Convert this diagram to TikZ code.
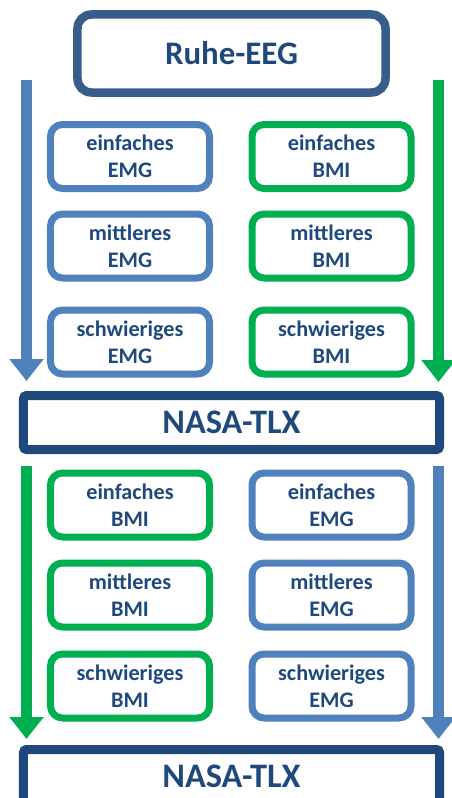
\documentclass[tikz,border=0pt]{standalone}
\usepackage{fontspec}
\setmainfont{Carlito}
\usetikzlibrary{arrows.meta}

\definecolor{emgblue}{HTML}{4F81BD}
\definecolor{bmigreen}{HTML}{00B050}
\definecolor{eegblue}{HTML}{385D8A}
\definecolor{tlxblue}{HTML}{1F497D}

\begin{document}
\begin{tikzpicture}[x=1bp, y=-1bp, text=tlxblue,
    task/.style={draw, rounded corners=12bp, line width=7bp, align=center,
      minimum width=159bp, minimum height=64bp, inner sep=0pt,
      font=\fontsize{22.3}{27}\selectfont\bfseries},
    emg/.style={task, draw=emgblue},
    bmi/.style={task, draw=bmigreen},
    survey/.style={draw=tlxblue, line width=9bp, rounded corners=3bp,
      minimum width=416bp, minimum height=54bp, inner sep=0pt,
      font=\fontsize{34.5}{38}\selectfont\bfseries},
    flow/.style={line width=11bp, -{Triangle[length=22bp, width=33bp]}}]

  \useasboundingbox (0,0) rectangle (452,798);

  % resting EEG at the top
  \node[draw=eegblue, line width=8.5bp, rounded corners=14bp,
        minimum width=308bp, minimum height=78bp,
        font=\fontsize{33}{38}\selectfont\bfseries]
    (eeg) at (231.5,53.5) {Ruhe-EEG};

  % first block: EMG left, BMI right
  \node[emg] (emgA1) at (130,156.5) {einfaches\\EMG};
  \node[emg] (emgA2) at (130,246)   {mittleres\\EMG};
  \node[emg] (emgA3) at (130,342)   {schwieriges\\EMG};
  \node[bmi] (bmiA1) at (331.5,156.5) {einfaches\\BMI};
  \node[bmi] (bmiA2) at (331.5,246)   {mittleres\\BMI};
  \node[bmi] (bmiA3) at (331.5,342)   {schwieriges\\BMI};

  \node[survey] (tlxA) at (231.5,422.5) {NASA-TLX};

  % second block: BMI left, EMG right
  \node[bmi] (bmiB1) at (130,505) {einfaches\\BMI};
  \node[bmi] (bmiB2) at (130,595) {mittleres\\BMI};
  \node[bmi] (bmiB3) at (130,686) {schwieriges\\BMI};
  \node[emg] (emgB1) at (331.5,505) {einfaches\\EMG};
  \node[emg] (emgB2) at (331.5,595) {mittleres\\EMG};
  \node[emg] (emgB3) at (331.5,686) {schwieriges\\EMG};

  \node[survey] (tlxB) at (231.5,776.5) {NASA-TLX};

  % side arrows
  \coordinate (lA) at (26.5,80);  \coordinate (lAend) at (26.5,381);
  \coordinate (rA) at (438.5,80); \coordinate (rAend) at (438.5,382);
  \coordinate (lB) at (26.5,466);  \coordinate (lBend) at (26.5,739);
  \coordinate (rB) at (438.5,466); \coordinate (rBend) at (438.5,739);

  \draw[flow, emgblue]  (lA) -- (lAend);
  \draw[flow, bmigreen] (rA) -- (rAend);
  \draw[flow, bmigreen] (lB) -- (lBend);
  \draw[flow, emgblue]  (rB) -- (rBend);

\end{tikzpicture}
\end{document}
